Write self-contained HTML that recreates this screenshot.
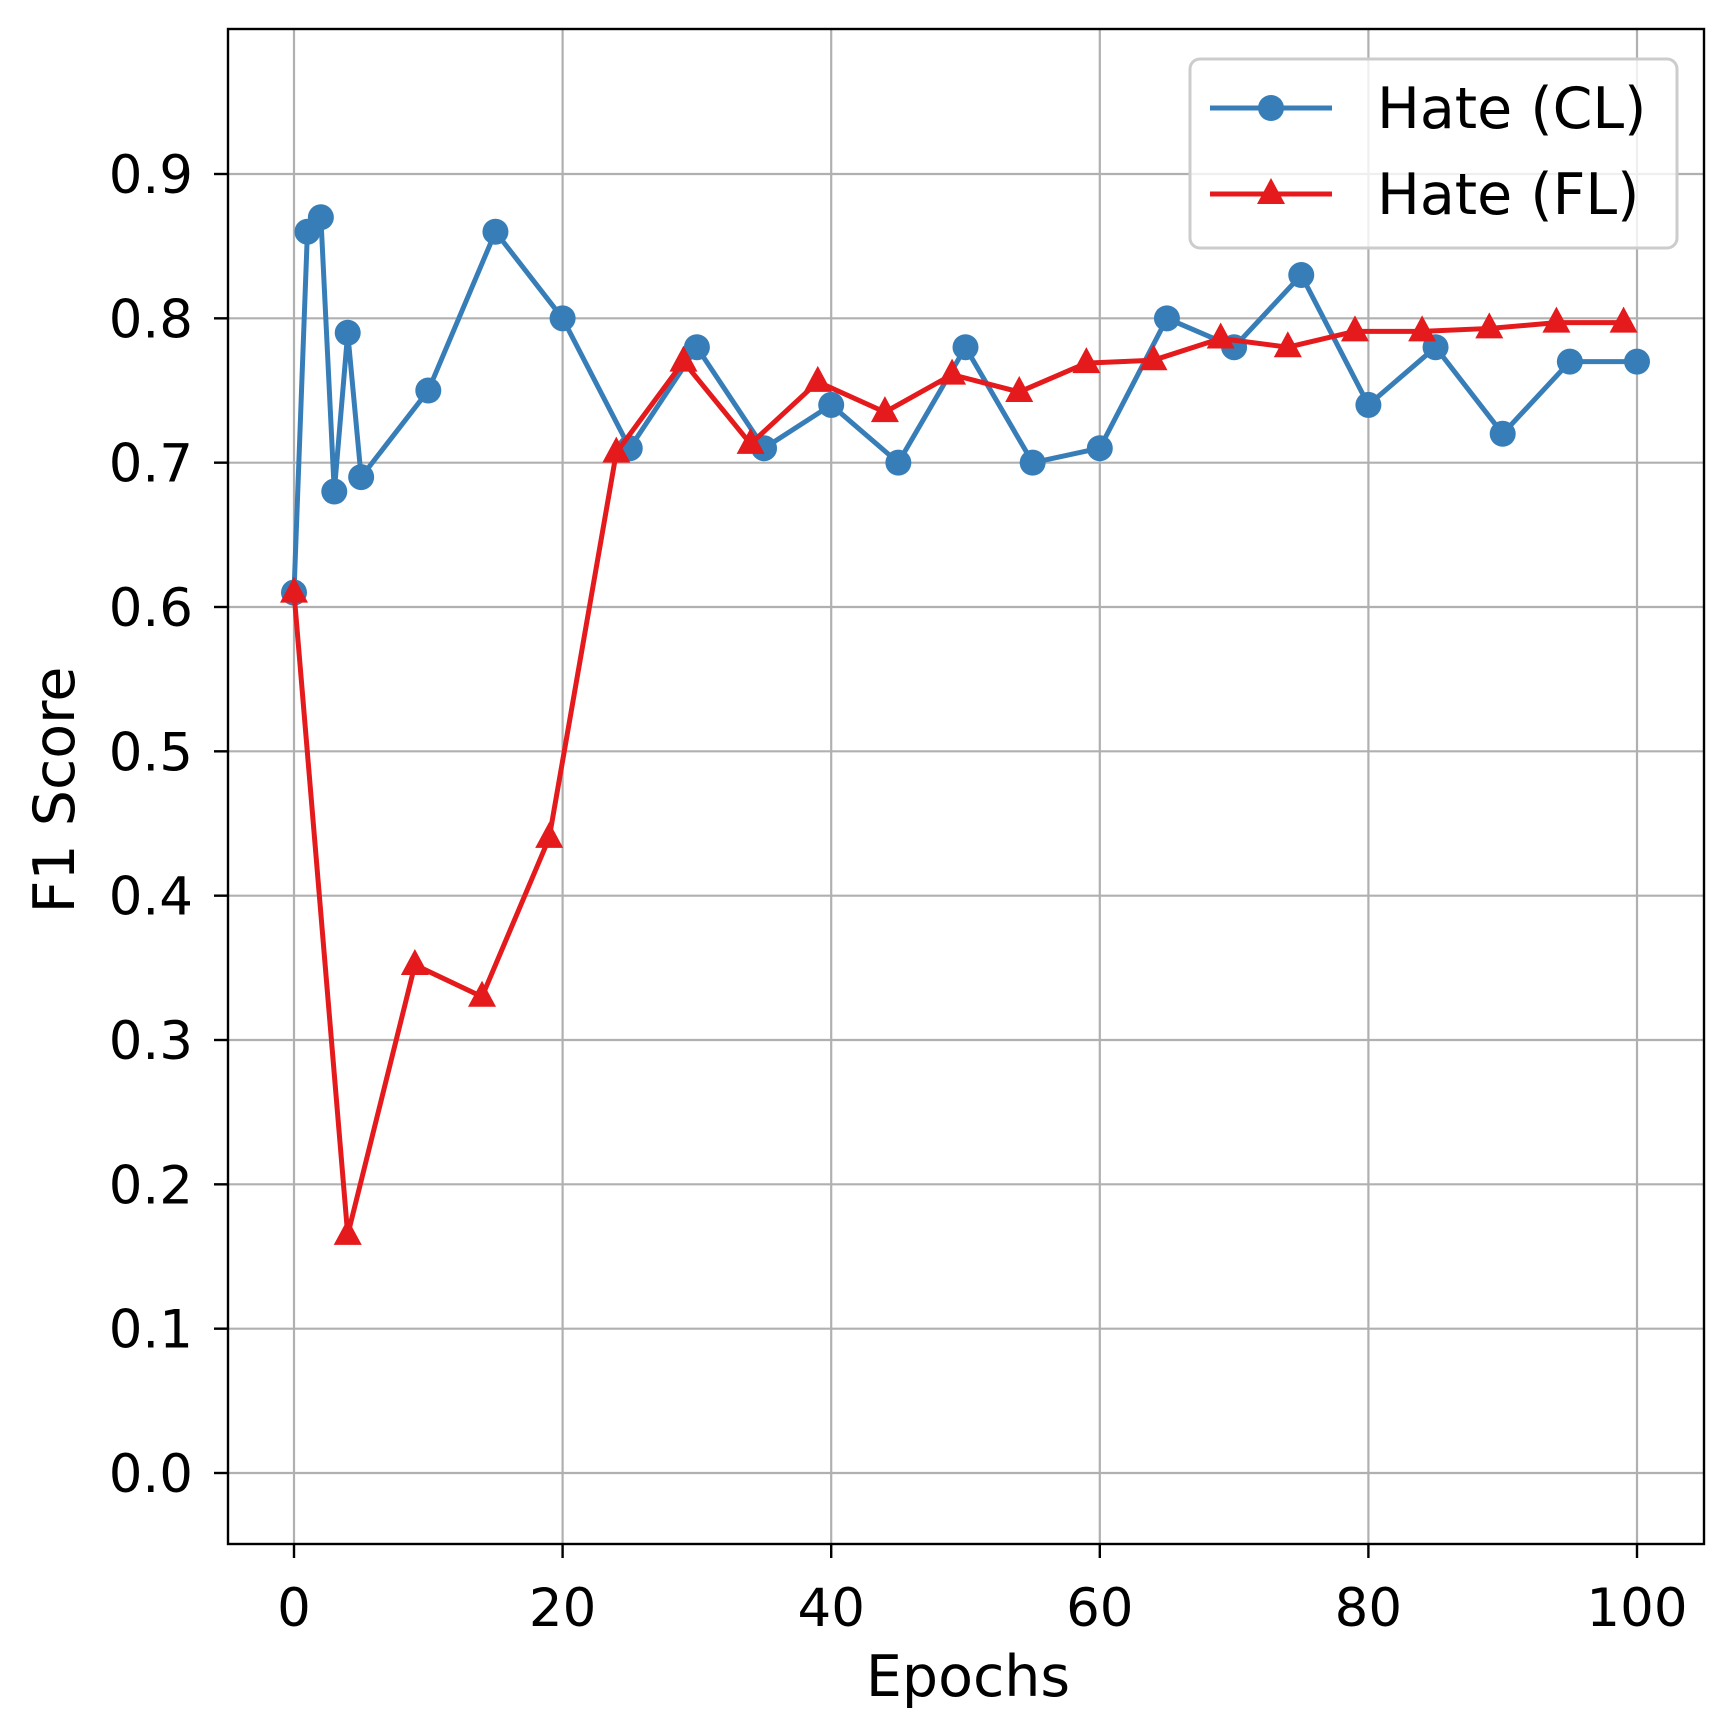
<!DOCTYPE html>
<html><head><meta charset="utf-8"><style>
html,body{margin:0;padding:0;background:#fff;}
svg{display:block;font-family:"DejaVu Sans","Liberation Sans",sans-serif;}
</style></head><body>
<svg id="chart" width="1733" height="1733" viewBox="0 0 1733 1733" xmlns="http://www.w3.org/2000/svg">
<rect width="1733" height="1733" fill="#fff"/>
<g id="grid"></g>
<g id="ticks"></g>
<g id="series"></g>
<rect x="228" y="29" width="1476" height="1515" fill="none" stroke="#000" stroke-width="2.4"/>
<text x="968" y="1696" font-size="57" text-anchor="middle">Epochs</text>
<text transform="translate(74,790) rotate(-90)" font-size="57" text-anchor="middle">F1 Score</text>
<g>
<rect x="1190" y="59" width="487" height="189" rx="10" fill="#fff" fill-opacity="0.8" stroke="#ccc" stroke-width="3"/>
<g>
<line x1="1210" y1="108" x2="1332" y2="108" stroke="#377eb8" stroke-width="5"/>
<circle cx="1271" cy="108" r="13" fill="#377eb8"/>
<text x="1377" y="128" font-size="57">Hate (CL)</text>
</g>
<g>
<line x1="1210" y1="194" x2="1332" y2="194" stroke="#e41a1c" stroke-width="5"/>
<polygon points="1271,178 1285,204 1257,204" fill="#e41a1c"/>
<text x="1377" y="214" font-size="57">Hate (FL)</text>
</g>
</g>
</svg>
<script>
const clEpochs=[0,1,2,3,4,5,10,15,20,25,30,35,40,45,50,55,60,65,70,75,80,85,90,95,100];
const clScores=[0.61,0.86,0.87,0.68,0.79,0.69,0.75,0.86,0.80,0.71,0.78,0.71,0.74,0.70,0.78,0.70,0.71,0.80,0.78,0.83,0.74,0.78,0.72,0.77,0.77];
const flEpochs=[0,4,9,14,19,24,29,34,39,44,49,54,59,64,69,74,79,84,89,94,99];
const flScores=[0.61,0.165,0.352,0.33,0.44,0.707,0.77,0.713,0.756,0.735,0.761,0.749,0.769,0.771,0.786,0.78,0.791,0.791,0.793,0.797,0.797];
const xTicks=[0,20,40,60,80,100];
const yTicks=[0.0,0.1,0.2,0.3,0.4,0.5,0.6,0.7,0.8,0.9];

const NS="http://www.w3.org/2000/svg";
const X0=294,X100=1637,Y0=1473,Y09=174;
function sx(v){return X0+(X100-X0)*v/100;}
function sy(v){return Y0-(Y0-Y09)*v/0.9;}
function mk(tag,attrs,parent){const e=document.createElementNS(NS,tag);for(const k in attrs)e.setAttribute(k,attrs[k]);parent.appendChild(e);return e;}
const grid=document.getElementById('grid'),ticks=document.getElementById('ticks'),series=document.getElementById('series');
xTicks.forEach(t=>{
  const g=mk('line',{x1:sx(t),x2:sx(t),y1:29,y2:1544,stroke:'#b0b0b0','stroke-width':2.2},grid);
  
  
  const tk=mk('line',{x1:sx(t),x2:sx(t),y1:1544,y2:1558,stroke:'#000','stroke-width':2.4},ticks);
  
  
  const lb=mk('text',{x:sx(t),y:1626,'font-size':53,'text-anchor':'middle'},ticks);
  lb.textContent=String(t);
  
  
});
yTicks.forEach(t=>{
  const g=mk('line',{x1:228,x2:1704,y1:sy(t),y2:sy(t),stroke:'#b0b0b0','stroke-width':2.2},grid);
  
  
  const tk=mk('line',{x1:214,x2:228,y1:sy(t),y2:sy(t),stroke:'#000','stroke-width':2.4},ticks);
  
  
  const lb=mk('text',{x:193,y:sy(t)+19,'font-size':53,'text-anchor':'end'},ticks);
  lb.textContent=t.toFixed(1);
  
  
});
const clLine=mk('polyline',{points:clEpochs.map((e,i)=>sx(e)+','+sy(clScores[i])).join(' '),fill:'none',stroke:'#377eb8','stroke-width':5,'stroke-linejoin':'round'},series);


clEpochs.forEach((e,i)=>{
  const c=mk('circle',{cx:sx(e),cy:sy(clScores[i]),r:13,fill:'#377eb8'},series);
  
  
});
const flLine=mk('polyline',{points:flEpochs.map((e,i)=>sx(e)+','+sy(flScores[i])).join(' '),fill:'none',stroke:'#e41a1c','stroke-width':5,'stroke-linejoin':'round'},series);


flEpochs.forEach((e,i)=>{
  const x=sx(e),y=sy(flScores[i]);
  const p=mk('polygon',{points:`${x},${y-16} ${x+14},${y+10} ${x-14},${y+10}`,fill:'#e41a1c'},series);
  
  
});
</script>
</body></html>
